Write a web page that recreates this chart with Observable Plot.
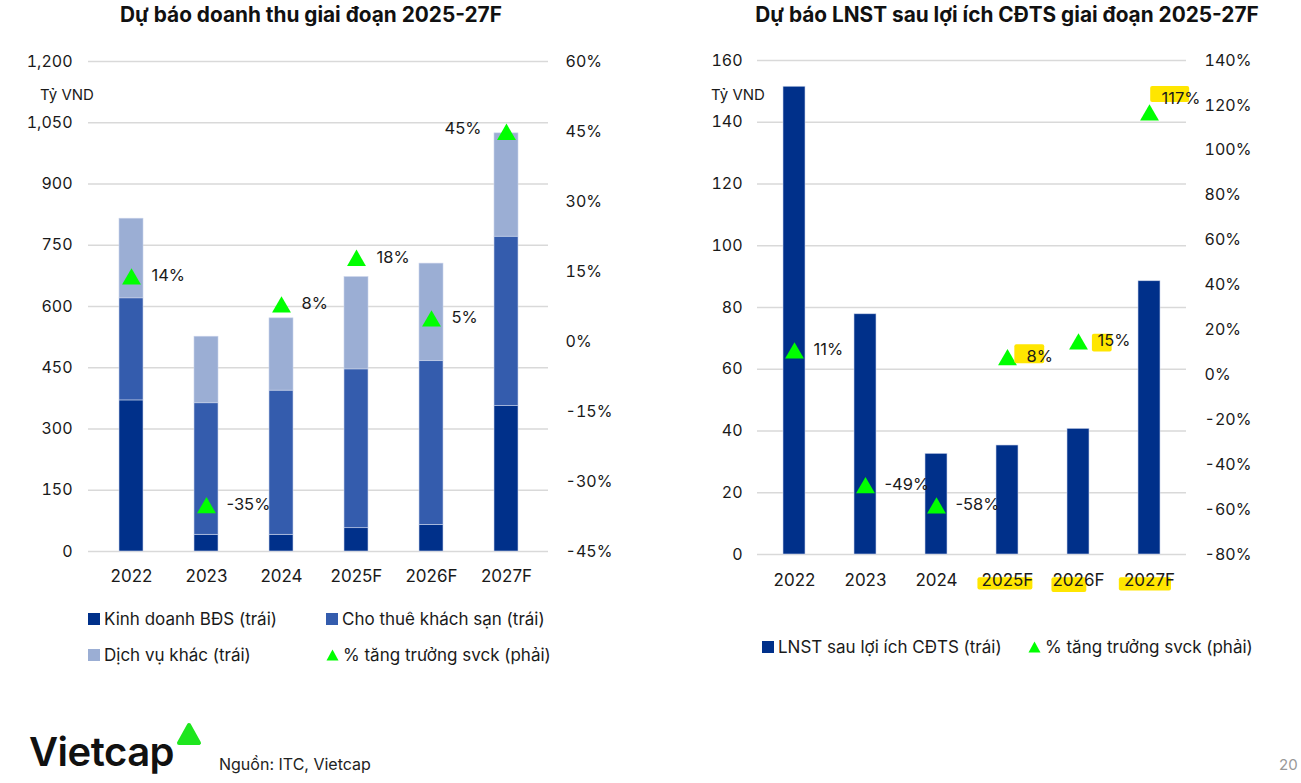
<!DOCTYPE html>
<html><head><meta charset="utf-8">
<script src="https://cdn.jsdelivr.net/npm/d3@7"></script>
<script src="https://cdn.jsdelivr.net/npm/@observablehq/plot@0.6"></script>
<style>
body{margin:0;background:#fff;font-family:Inter,"Noto Sans",sans-serif;color:#1a1a1a}
#root{position:relative;width:1301px;height:783px;overflow:hidden;background:#fff}
.abs{position:absolute;white-space:nowrap}
.title{font-weight:700;font-size:20.8px;top:2px;transform:translateX(-50%);color:#111}
.unit{font-size:15px}
.leg{font-size:17px;display:flex;align-items:center;transform:translateY(-50%)}
.sq{display:inline-block;width:12px;height:12px;margin-right:4px}
.chart{position:absolute;top:40px}
</style></head>
<body><div id="root"></div>
<script>
// ---- data ----
const years = ["2022","2023","2024","2025F","2026F","2027F"];
const segs = ["Kinh doanh BĐS (trái)","Cho thuê khách sạn (trái)","Dịch vụ khác (trái)"];
const segColors = ["#00308A","#345CAD","#9BAED4"];
const bds   = [370, 41, 41, 57, 65, 356];
const hotel = [250, 322, 353, 389, 401, 415];
const other = [195, 163, 177, 226, 239, 253];
const revGrowth = [14, -35, 8, 18, 5, 45];
const npat = [151.5, 77.8, 32.6, 35.3, 40.7, 88.5];
const npatGrowth = [11, -49, -58, 8, 15, 117];
const leftTicksL = [0,150,300,450,600,750,900,1050,1200];
const pctTicksL = [-45,-30,-15,0,15,30,45,60];
const leftTicksR = [0,20,40,60,80,100,120,140,160];
const pctTicksR = [-80,-60,-40,-20,0,20,40,60,80,100,120,140];
const green = "#00FF00";

const root = document.getElementById("root");
function add(html){ root.insertAdjacentHTML("beforeend", html); }

// titles & units
add(`<div class="abs title" style="left:311px">Dự báo doanh thu giai đoạn 2025-27F</div>`);
add(`<div class="abs title" style="left:1007px">Dự báo LNST sau lợi ích CĐTS giai đoạn 2025-27F</div>`);
add(`<div class="abs unit" style="left:40px;top:85px">Tỷ VND</div>`);
add(`<div class="abs unit" style="left:711px;top:85px">Tỷ VND</div>`);

const tri = `<svg width="13" height="12" style="margin-right:4px"><polygon points="6.5,0.5 12.5,11.5 0.5,11.5" fill="${green}"/></svg>`;
add(`<div class="abs leg" style="left:88px;top:619px"><span class="sq" style="background:${segColors[0]}"></span>${segs[0]}</div>`);
add(`<div class="abs leg" style="left:326px;top:619px"><span class="sq" style="background:${segColors[1]}"></span>${segs[1]}</div>`);
add(`<div class="abs leg" style="left:88px;top:655px"><span class="sq" style="background:${segColors[2]}"></span>${segs[2]}</div>`);
add(`<div class="abs leg" style="left:326px;top:655px">${tri}% tăng trưởng svck (phải)</div>`);
add(`<div class="abs leg" style="left:762px;top:647px"><span class="sq" style="background:${segColors[0]}"></span>LNST sau lợi ích CĐTS (trái)</div>`);
add(`<div class="abs leg" style="left:1028px;top:647px">${tri}% tăng trưởng svck (phải)</div>`);

// footer
add(`<div class="abs" style="left:29px;top:727px;font-size:40px;font-weight:600;letter-spacing:-0.5px;color:#111">Vietcap</div>`);
add(`<svg class="abs" style="left:176px;top:721px" width="27" height="27"><polygon points="13,4 23,22 3,22" fill="#1EE61E" stroke="#1EE61E" stroke-width="4" stroke-linejoin="round"/></svg>`);
add(`<div class="abs" style="left:219px;top:754px;font-size:16px;color:#222">Nguồn: ITC, Vietcap</div>`);
add(`<div class="abs" style="left:1279px;top:755px;font-size:15px;color:#999">20</div>`);

const baseStyle = {fontFamily:"Inter, 'Noto Sans', sans-serif", fontSize:"16px", color:"#1a1a1a", background:"transparent", overflow:"visible"};

// ---- left chart ----
const revRows = years.flatMap((y,i)=>[
  {year:y, seg:segs[0], v:bds[i]},
  {year:y, seg:segs[1], v:hotel[i]},
  {year:y, seg:segs[2], v:other[i]}]);
const revG = years.map((y,i)=>({year:y, g:revGrowth[i]}));
const pL = p => (p+45)/105*1200;
const left = Plot.plot({
  width:650, height:570, marginLeft:91, marginRight:104, marginTop:21, marginBottom:59,
  style:baseStyle,
  x:{domain:years, paddingInner:0.684, paddingOuter:0.342, label:null},
  y:{domain:[0,1200], label:null},
  color:{domain:segs, range:segColors},
  marks:[
    Plot.ruleY(leftTicksL, {stroke:"#d9d9d9", strokeWidth:1.3, insetLeft:-3, insetRight:-2}),
    Plot.barY(revRows, {x:"year", y:"v", fill:"seg", stroke:"#c9d3ea", strokeWidth:0.6}),
    Plot.axisX({tickSize:0, tickPadding:18, fontSize:17, label:null}),
    Plot.axisY(leftTicksL, {tickSize:0, tickPadding:19, fontSize:16, tickFormat:d3.format(","), label:null}),
    Plot.axisY(pctTicksL.map(pL), {anchor:"right", tickSize:0, tickPadding:19, fontSize:16, label:null,
      tickFormat:v=>Math.round(v/1200*105-45)+"%"}),
    Plot.dot(revG, {x:"year", y:d=>pL(d.g), symbol:"triangle", r:7, fill:green, stroke:"none", dy:3}),
    Plot.text(revG.filter(d=>d.year!=="2027F"), {x:"year", y:d=>pL(d.g), text:d=>d.g+"%", dx:20, textAnchor:"start", fontSize:16.5, fill:"#1a1a1a"}),
    Plot.text(revG.filter(d=>d.year==="2027F"), {x:"year", y:d=>pL(d.g), text:d=>d.g+"%", dx:-25, dy:-3, textAnchor:"end", fontSize:16.5, fill:"#1a1a1a"})
  ]
});
left.classList.add("chart"); left.style.left="0px";
root.appendChild(left);

// ---- right chart ----
const npRows = years.map((y,i)=>({year:y, v:npat[i], g:npatGrowth[i]}));
const pR = p => (p+80)/220*160;
const right = Plot.plot({
  width:651, height:570, marginLeft:107, marginRight:115, marginTop:20, marginBottom:56,
  style:baseStyle,
  x:{domain:years, paddingInner:0.688, paddingOuter:0.344, label:null},
  y:{domain:[0,160], label:null},
  marks:[
    Plot.ruleY(leftTicksR, {stroke:"#d9d9d9", strokeWidth:1.3}),
    Plot.barY(npRows, {x:"year", y:"v", fill:segColors[0], stroke:"#c9d3ea", strokeWidth:0.6}),
    Plot.axisX({tickSize:0, tickPadding:19, fontSize:17, label:null}),
    Plot.axisY(leftTicksR, {tickSize:0, tickPadding:15, fontSize:16, label:null}),
    Plot.axisY(pctTicksR.map(pR), {anchor:"right", tickSize:0, tickPadding:18, fontSize:16, label:null,
      tickFormat:v=>Math.round(v/160*220-80)+"%"}),
    Plot.dot(npRows, {x:"year", y:d=>pR(d.g), symbol:"triangle", r:7, fill:green, stroke:"none", dy:3}),
    Plot.text(npRows.filter(d=>d.year!=="2027F"), {x:"year", y:d=>pR(d.g), text:d=>d.g+"%", dx:19, textAnchor:"start", fontSize:16.5, fill:"#1a1a1a"}),
    Plot.text(npRows.filter(d=>d.year==="2027F"), {x:"year", y:d=>pR(d.g), text:d=>d.g+"%", dx:12, dy:-13, textAnchor:"start", fontSize:16.5, fill:"#1a1a1a"})
  ]
});
right.classList.add("chart"); right.style.left="650px";
root.appendChild(right);

// ---- highlighter marks (derived from the rendered text boxes) ----
const hl = {
  "2025F":[-0.08,0.98,0.38,1.0],
  "2026F":[-0.02,0.65,0.38,1.12],
  "2027F":[-0.1,0.92,0.38,1.05],
  "8%":[-0.46,0.67,-0.1,0.85],
  "15%":[-0.17,0.43,0.16,1.05],
  "117%":[-0.29,0.71,-0.12,0.68]
};
right.querySelectorAll("text").forEach(t=>{
  const s = hl[t.textContent];
  if(!s) return;
  const bb = t.getBBox();
  const r = document.createElementNS("http://www.w3.org/2000/svg","rect");
  r.setAttribute("x", bb.x + s[0]*bb.width);
  r.setAttribute("width", (s[1]-s[0])*bb.width);
  r.setAttribute("y", bb.y + s[2]*bb.height);
  r.setAttribute("height", (s[3]-s[2])*bb.height);
  r.setAttribute("rx", 2);
  r.setAttribute("fill", "#FFE600");
  if(t.getAttribute("transform")) r.setAttribute("transform", t.getAttribute("transform"));
  t.parentNode.insertBefore(r, t);
});
</script></body></html>
